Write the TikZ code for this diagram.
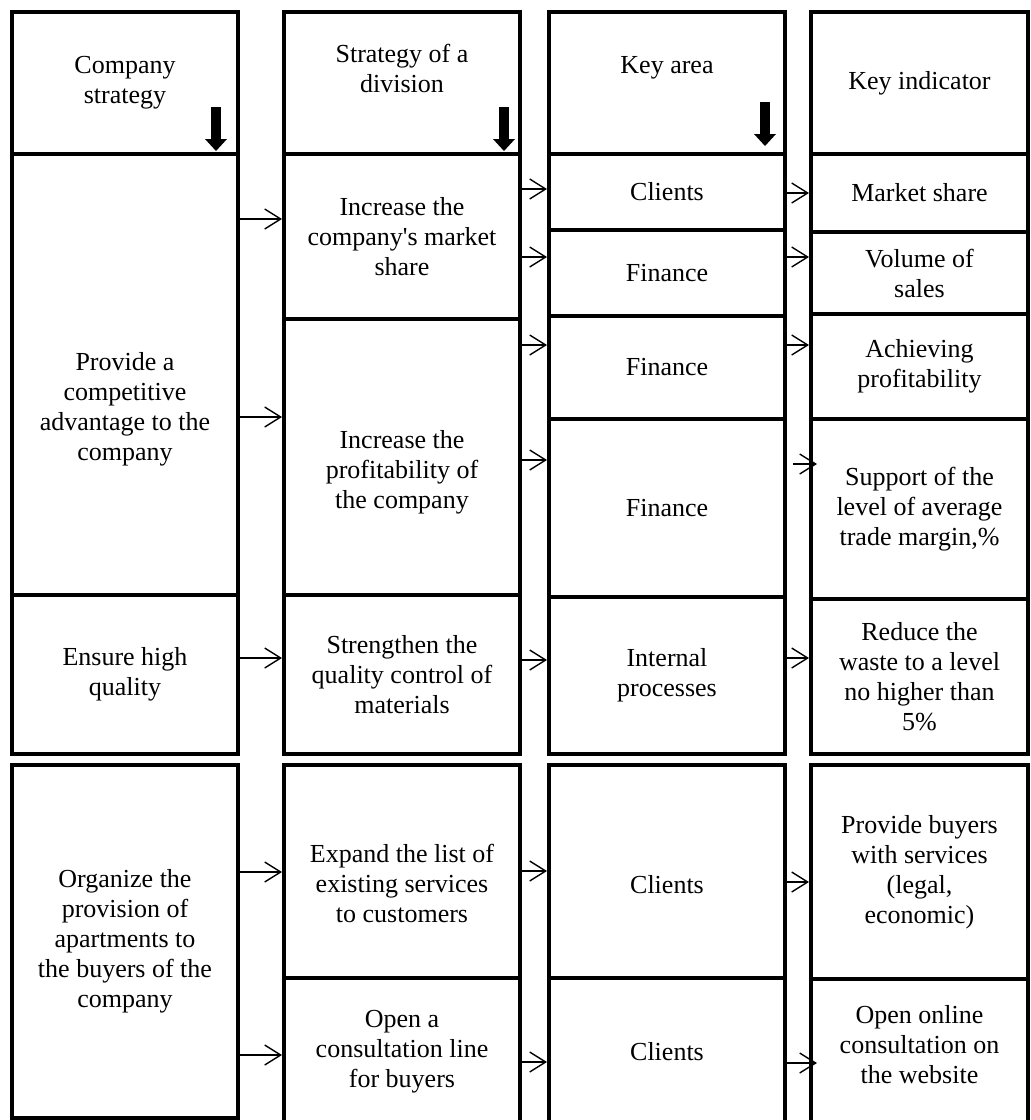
\documentclass[tikz,border=0pt]{standalone}
\usepackage{fontspec}
\setmainfont{Liberation Serif}
\usetikzlibrary{arrows.meta}

\begin{document}
\begin{tikzpicture}[
		x=0.5pt, y=-0.5pt,
		every node/.style={font=\fontsize{13}{15}\selectfont, align=center},
		cell/.style 2 args={draw, line width=2pt, anchor=north west, inner sep=0pt,
			minimum width=#1*0.5pt, minimum height=#2*0.5pt},
		conn/.style={line width=0.7pt, -{Straight Barb[length=8pt, width=10pt]}},
		downarr/.style={line width=5pt, -{Triangle[length=6pt, width=11pt, line width=0pt]}}
		]
		\useasboundingbox (0,0) rectangle (1030,1120);
		
		% Header row
		\node[cell={226}{142}] (hcomp) at (10,10) {Company\\strategy};
		\node[cell={236}{142}, label={[yshift=7.5pt]center:{Strategy of a\\division}}] (hdiv) at (282,10) {};
		\node[cell={236}{142}, label={[yshift=7.5pt]center:Key area}] (harea) at (547,10) {};
		\node[cell={217}{142}] (hind) at (809,10) {Key indicator};
		
		% Down arrows in the headers
		\draw[downarr] ([shift={(-12pt,24.5pt)}]hcomp.south east) -- ++(0pt,-22pt);
		\draw[downarr] ([shift={(-9pt,24.5pt)}]hdiv.south east) -- ++(0pt,-22pt);
		\draw[downarr] ([shift={(-11pt,27pt)}]harea.south east) -- ++(0pt,-22pt);
		
		% Company strategy
		\node[cell={226}{441}, label={[yshift=-17.5pt]center:{Provide a\\competitive\\advantage to the\\company}}] (adv) at (10,152) {};
		\node[cell={226}{159}] (qual) at (10,593) {Ensure high\\quality};
		\node[cell={226}{353}] (org) at (10,763) {Organize the\\provision of\\apartments to\\the buyers of the\\company};
		
		% Strategy of a division
		\node[cell={236}{165}] (share) at (282,152) {Increase the\\company\textquotesingle s market\\share};
		\node[cell={236}{276}, label={[yshift=-7.5pt]center:{Increase the\\profitability of\\the company}}] (profit) at (282,317) {};
		\node[cell={236}{159}] (ctrl) at (282,593) {Strengthen the\\quality control of\\materials};
		\node[cell={236}{213}, label={[yshift=-6pt]center:{Expand the list of\\existing services\\to customers}}] (expand) at (282,763) {};
		\node[cell={236}{148}] (cline) at (282,976) {Open a\\consultation line\\for buyers};
		
		% Key area
		\node[cell={236}{76}] (cli) at (547,152) {Clients};
		\node[cell={236}{86}] (fin1) at (547,228) {Finance};
		\node[cell={236}{103}] (fin2) at (547,314) {Finance};
		\node[cell={236}{178}] (fin3) at (547,417) {Finance};
		\node[cell={236}{157}] (intern) at (547,595) {Internal\\processes};
		\node[cell={236}{213}, label={[yshift=-6.5pt]center:Clients}] (cli3) at (547,763) {};
		\node[cell={236}{148}] (cli4) at (547,976) {Clients};
		
		% Key indicator
		\node[cell={217}{78}] (mshare) at (809,152) {Market share};
		\node[cell={217}{82}] (volume) at (809,230) {Volume of\\sales};
		\node[cell={217}{105}] (achieve) at (809,312) {Achieving\\profitability};
		\node[cell={217}{180}] (support) at (809,417) {Support of the\\level of average\\trade margin,\%};
		\node[cell={217}{155}] (waste) at (809,597) {Reduce the\\waste to a level\\no higher than\\5\%};
		\node[cell={217}{214}] (serv) at (809,763) {Provide buyers\\with services\\(legal,\\economic)};
		\node[cell={217}{147}, label={[yshift=4pt]center:{Open online\\consultation on\\the website}}] (online) at (809,977) {};
		
		% Company strategy -> strategy of a division
		\draw[conn] (adv.east |- 0,219) -- (share.west |- 0,219);
		\draw[conn] (adv.east |- 0,417) -- (profit.west |- 0,417);
		\draw[conn] (qual.east |- 0,658) -- (ctrl.west |- 0,658);
		\draw[conn] (org.east |- 0,872) -- (expand.west |- 0,872);
		\draw[conn] (org.east |- 0,1055) -- (cline.west |- 0,1055);
		
		% Strategy of a division -> key area
		\draw[conn] (share.east |- 0,189) -- (cli.west |- 0,189);
		\draw[conn] (share.east |- 0,257) -- (fin1.west |- 0,257);
		\draw[conn] (profit.east |- 0,345) -- (fin2.west |- 0,345);
		\draw[conn] (profit.east |- 0,460) -- (fin3.west |- 0,460);
		\draw[conn] (ctrl.east |- 0,660) -- (intern.west |- 0,660);
		\draw[conn] (expand.east |- 0,871) -- (cli3.west |- 0,871);
		\draw[conn] (cline.east |- 0,1062) -- (cli4.west |- 0,1062);
		
		% Key area -> key indicator
		\draw[conn] (cli.east |- 0,193) -- (mshare.west |- 0,193);
		\draw[conn] (fin1.east |- 0,257) -- (volume.west |- 0,257);
		\draw[conn] (fin2.east |- 0,345) -- (achieve.west |- 0,345);
		\draw[conn] ([xshift=3pt]fin3.east |- 0,464) -- ([xshift=4pt]support.west |- 0,464);
		\draw[conn] (intern.east |- 0,658) -- (waste.west |- 0,658);
		\draw[conn] (cli3.east |- 0,882) -- (serv.west |- 0,882);
		\draw[conn] (cli4.east |- 0,1063) -- ([xshift=4pt]online.west |- 0,1063);
		
	\end{tikzpicture}
\end{document}
